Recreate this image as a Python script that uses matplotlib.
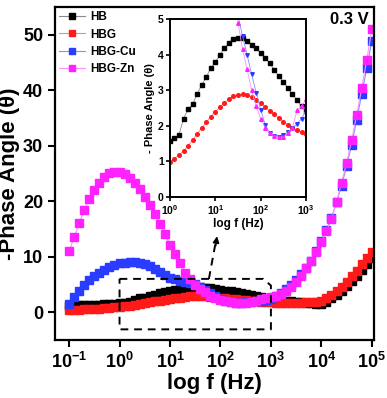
import numpy as np
import matplotlib
matplotlib.use('Agg')
import matplotlib.pyplot as plt
from matplotlib import ticker

plt.rcParams['font.family'] = ['Liberation Sans', 'DejaVu Sans']
plt.rcParams['font.weight'] = 'bold'
plt.rcParams['mathtext.fontset'] = 'custom'
plt.rcParams['mathtext.rm'] = 'Liberation Sans:bold'
plt.rcParams['mathtext.bf'] = 'Liberation Sans:bold'
plt.rcParams['mathtext.it'] = 'Liberation Sans:bold:italic'

# frequency grid: 10 points per decade, 0.1 Hz .. 100 kHz
freq = 10 ** (np.arange(61) / 10 - 1)

hb = [1.15, 1.2, 1.22, 1.25, 1.28, 1.32, 1.36, 1.4, 1.45, 1.52,
      1.58, 1.65, 1.75, 2.2, 2.47, 2.6, 2.9, 3.15, 3.37, 3.62,
      3.79, 3.99, 4.19, 4.33, 4.44, 4.47, 4.47, 4.38, 4.27, 4.19,
      4.04, 3.9, 3.76, 3.57, 3.4, 3.23, 3.06, 2.89, 2.72, 2.55,
      2.42, 2.3, 2.2, 2.1, 2.0, 1.9, 1.8, 1.7, 1.6, 1.5,
      1.5, 1.9, 2.5, 3.1, 3.8, 4.7, 5.6, 6.6, 7.6, 8.7, 9.8]
hbg = [0.35, 0.4, 0.45, 0.5, 0.55, 0.6, 0.66, 0.72, 0.8, 0.88,
       0.98, 1.07, 1.18, 1.3, 1.44, 1.6, 1.77, 1.94, 2.1, 2.26,
       2.4, 2.53, 2.64, 2.75, 2.83, 2.88, 2.89, 2.86, 2.8, 2.72,
       2.63, 2.53, 2.43, 2.33, 2.22, 2.12, 2.03, 1.95, 1.88, 1.82,
       1.77, 1.73, 1.7, 1.68, 1.67, 1.68, 1.71, 1.76, 1.83, 1.92,
       2.05, 2.5, 3.1, 3.8, 4.6, 5.5, 6.5, 7.5, 8.6, 9.7, 10.8]
hbg_cu = [1.5, 2.7, 3.9, 4.9, 5.8, 6.5, 7.0, 7.6, 8.1, 8.5,
          8.8, 8.95, 9.0, 9.0, 8.95, 8.7, 8.3, 7.8, 7.2, 6.7,
          6.2, 5.9, 5.6, 5.4, 5.25, 5.1, 4.52, 4.0, 3.45, 2.93,
          2.45, 2.03, 1.8, 1.71, 1.69, 1.75, 1.82, 1.93, 2.06, 2.2,
          2.45, 3.0, 3.5, 4.2, 4.9, 5.8, 6.9, 8.0, 9.3, 11.0,
          12.9, 14.9, 17.0, 19.8, 22.8, 26.3, 30.2, 34.7, 39.3, 44.0, 48.9]
hbg_zn = [11.0, 13.5, 16.1, 18.4, 20.4, 22.0, 23.3, 24.4, 25.1, 25.3,
          25.3, 24.9, 24.2, 23.3, 22.2, 20.8, 19.3, 17.7, 15.9, 14.1,
          12.1, 10.5, 8.8, 7.0, 6.0, 4.9, 4.15, 3.6, 3.0, 2.55,
          2.2, 1.95, 1.8, 1.72, 1.68, 1.68, 1.8, 1.95, 2.44, 2.56,
          2.75, 2.9, 3.3, 3.9, 4.5, 5.4, 6.5, 7.9, 9.2, 10.8,
          12.6, 14.6, 16.8, 19.8, 23.3, 26.9, 31.0, 35.5, 40.4, 45.5, 51.0]

series = [('HB', hb, 'black', '#8a8a8a', 's'),
          ('HBG', hbg, '#ff1a1a', '#ff8080', 'o'),
          ('HBG-Cu', hbg_cu, '#2a3cff', '#8090ff', 'v'),
          ('HBG-Zn', hbg_zn, '#ff22ff', '#ff90ff', '^')]

xticks = [1e-1, 1e0, 1e1, 1e2, 1e3, 1e4, 1e5]
xticklabels = [r'$\mathbf{10^{-1}}$', r'$\mathbf{10^{0}}$', r'$\mathbf{10^{1}}$',
               r'$\mathbf{10^{2}}$', r'$\mathbf{10^{3}}$', r'$\mathbf{10^{4}}$',
               r'$\mathbf{10^{5}}$']

fig = plt.figure(figsize=(3.87, 3.98), dpi=100)
ax = fig.add_axes([0.142, 0.146, 0.824, 0.836])

for name, vals, c, lc, m in series:
    ax.plot(freq, vals, '-', marker='s', color=lc, mfc=c, mec=c,
            ms=5.4, lw=0.8, label=name)

ax.set_xscale('log')
ax.set_xlim(10 ** -1.28, 10 ** 5.04)
ax.set_ylim(-5, 55)
ax.set_yticks([0, 10, 20, 30, 40, 50])
ax.set_xticks(xticks)
ax.set_xticklabels(xticklabels)
ax.xaxis.set_minor_locator(ticker.NullLocator())
ax.tick_params(direction='out', length=5, width=1.5, labelsize=13)
for s in ax.spines.values():
    s.set_linewidth(1.6)
ax.set_xlabel('log f (Hz)', fontsize=16, fontweight='bold', labelpad=1)
ax.set_ylabel('-Phase Angle (\u03b8)', fontsize=16, fontweight='bold', labelpad=2)

ax.legend(loc='upper left', frameon=False, prop=dict(weight='bold', size=8.5),
          handlelength=2.2, borderaxespad=0.15, labelspacing=0.45,
          handletextpad=0.4, borderpad=0.2, markerscale=0.9)

ax.text(0.985, 0.985, '0.3 V', transform=ax.transAxes, ha='right', va='top',
        fontsize=12, fontweight='bold')

# dashed zoom box and arrow
box_x = [1, 10 ** 2.85, 1000, 1000, 1, 1]
box_y = [6.0, 6.0, 4.8, -3.1, -3.1, 6.0]
ax.plot(box_x, box_y, color='black', lw=1.4, ls=(0, (4, 3)))
ax.plot([59, 80], [6.0, 12.5], color='black', lw=1.4, ls=(0, (4, 3)))
ax.annotate('', xy=(87, 14.2), xytext=(79, 11.5),
            arrowprops=dict(arrowstyle='-|>', color='black', lw=1.2,
                            mutation_scale=9))

# inset
ax2 = fig.add_axes([0.439, 0.505, 0.352, 0.447])
for name, vals, c, lc, m in series:
    ax2.plot(freq, vals, '-', marker=m, color=lc, mfc=c, mec=c,
             ms=2.6, lw=0.6)
ax2.set_xscale('log')
ax2.set_xlim(1, 1000)
ax2.set_ylim(0, 5)
ax2.set_xticks([1, 10, 100, 1000])
ax2.set_xticklabels(xticklabels[1:5])
ax2.xaxis.set_minor_locator(ticker.NullLocator())
ax2.set_yticks([0, 1, 2, 3, 4, 5])
ax2.tick_params(direction='out', length=3, width=1.2, labelsize=7.5, pad=1.5)
for s in ax2.spines.values():
    s.set_linewidth(1.4)
ax2.set_xlabel('log f (Hz)', fontsize=8.5, fontweight='bold', labelpad=1)
ax2.set_ylabel('- Phase Angle (\u03b8)', fontsize=8, fontweight='bold', labelpad=2)

fig.savefig('out.png', dpi=100)
